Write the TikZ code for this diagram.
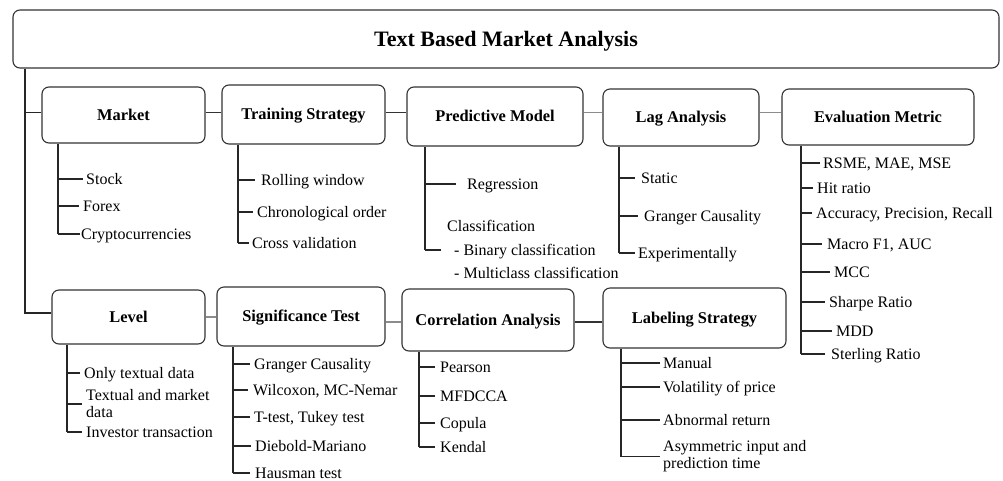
\documentclass[tikz,border=0pt]{standalone}
\usepackage{fontspec}
\setmainfont{Liberation Serif}
\begin{document}
\begin{tikzpicture}[x=1pt,y=-1pt,
  box/.style={draw=black!80, line width=1.1pt, rounded corners=7pt, inner sep=0pt,
              text height=10.9pt, text depth=0pt,
              font=\fontsize{16.4}{18}\selectfont\bfseries},
  item/.style={anchor=west, inner sep=0pt, text height=10.6pt, text depth=0pt,
               font=\fontsize{16}{17}\selectfont},
  item2/.style={anchor=west, inner sep=0pt, align=left,
                font=\fontsize{16}{17}\selectfont},
  tree/.style={draw=black!85, line width=1.1pt},
  link/.style={draw=black!80, line width=1.1pt},
  linkgray/.style={draw=black!45, line width=1.1pt}]
\useasboundingbox (0,0) rectangle (1003,480);

% ---- main heading ----
\node[box, minimum width=986pt, minimum height=58pt, text height=14.6pt,
      font=\fontsize{22}{26}\selectfont\bfseries]
  (title) at (506,39) {Text Based Market Analysis};

% ---- category boxes ----
\node[box, minimum width=163pt, minimum height=56pt] (market)     at (123.5,115)   {Market};
\node[box, minimum width=163pt, minimum height=59pt] (training)   at (303.5,114.5) {Training Strategy};
\node[box, minimum width=176pt, minimum height=59pt] (predictive) at (495,116.5)   {Predictive Model};
\node[box, minimum width=156pt, minimum height=57pt] (lag)        at (681,117.5)   {Lag Analysis};
\node[box, minimum width=192pt, minimum height=56pt] (eval)       at (878,117)     {Evaluation Metric};
\node[box, minimum width=153pt, minimum height=54pt] (level)      at (128.5,317)   {Level};
\node[box, minimum width=168pt, minimum height=59pt] (sig)        at (301,316.5)   {Significance Test};
\node[box, minimum width=172pt, minimum height=62pt] (corr)       at (488,320)     {Correlation Analysis};
\node[box, minimum width=183pt, minimum height=60pt] (label)      at (694.5,318)   {Labeling Strategy};

% ---- row guides and trunk positions ----
\coordinate (lt) at (25,0);
\coordinate (r1) at (0,112.5);
\coordinate (r2) at (0,313);
\coordinate (r3) at (0,317);
\coordinate (r4) at (0,322);

% ---- links between boxes ----
\draw[tree] (title.south -| lt) -- (lt |- r2) -- (level.west |- r2);
\draw[tree] (lt |- r1) -- (market.west |- r1);
\draw[link] (market.east |- r1) -- (training.west |- r1);
\draw[link] (training.east |- r1) -- (predictive.west |- r1);
\draw[linkgray] (predictive.east |- r1) -- (lag.west |- r1);
\draw[linkgray] (lag.east |- r1) -- (eval.west |- r1);
\draw[linkgray] (level.east |- r3) -- (sig.west |- r3);
\draw[linkgray] (sig.east |- r4) -- (corr.west |- r4);
\draw[link] (corr.east |- r4) -- (label.west |- r4);

% ---- Market ----
\coordinate (tA) at (58,0);
\node[item] (a1) at (86,179) {Stock};
\node[item] (a2) at (83,206) {Forex};
\node[item] (a3) at (81,234) {Cryptocurrencies};
\draw[tree] (market.south -| tA) -- (tA |- a3.west);
\foreach \n/\g in {a1/3,a2/4,a3/1} \draw[tree] (tA |- \n.west) -- ([xshift=-\g pt]\n.west);

% ---- Training Strategy ----
\coordinate (tB) at (238,0);
\node[item] (b1) at (261,180) {Rolling window};
\node[item] (b2) at (257,212) {Chronological order};
\node[item] (b3) at (252,243) {Cross validation};
\draw[tree] (training.south -| tB) -- (tB |- b3.west);
\foreach \n/\g in {b1/6,b2/4,b3/3} \draw[tree] (tB |- \n.west) -- ([xshift=-\g pt]\n.west);

% ---- Predictive Model ----
\coordinate (tC) at (425,0);
\node[item] (c1) at (467,184) {Regression};
\node[item] (c2) at (447,226) {Classification};
\node[item] (c3) at (454,250) {- Binary classification};
\node[item] (c4) at (454,273) {- Multiclass classification};
\draw[tree] (predictive.south -| tC) -- (tC |- c3.west);
\foreach \n/\g in {c1/11,c3/13} \draw[tree] (tC |- \n.west) -- ([xshift=-\g pt]\n.west);

% ---- Lag Analysis ----
\coordinate (tD) at (619,0);
\node[item] (d1) at (641,178) {Static};
\node[item] (d2) at (644,216) {Granger Causality};
\node[item] (d3) at (638,253) {Experimentally};
\draw[tree] (lag.south -| tD) -- (tD |- d3.west);
\foreach \n/\g in {d1/6,d2/6,d3/3} \draw[tree] (tD |- \n.west) -- ([xshift=-\g pt]\n.west);

% ---- Evaluation Metric ----
\coordinate (tE) at (801,0);
\node[item] (e1) at (823,163) {RSME, MAE, MSE};
\node[item] (e2) at (817,188) {Hit ratio};
\node[item] (e3) at (816,213) {Accuracy, Precision, Recall};
\node[item] (e4) at (827,244) {Macro F1, AUC};
\node[item] (e5) at (834,272) {MCC};
\node[item] (e6) at (829,302) {Sharpe Ratio};
\node[item] (e7) at (836,331) {MDD};
\node[item] (e8) at (831,354) {Sterling Ratio};
\draw[tree] (eval.south -| tE) -- (tE |- e8.west);
\foreach \n/\g in {e1/3,e2/4,e3/4,e4/5,e5/4,e6/4,e7/4,e8/6} \draw[tree] (tE |- \n.west) -- ([xshift=-\g pt]\n.west);

% ---- Level ----
\coordinate (tF) at (67,0);
\node[item]  (f1) at (84,373) {Only textual data};
\node[item2] (f2) at (86,404) {Textual and market\\data};
\node[item]  (f3) at (86,432) {Investor transaction};
\draw[tree] (level.south -| tF) -- (tF |- f3.west);
\foreach \n/\g in {f1/4,f2/4,f3/4} \draw[tree] (tF |- \n.west) -- ([xshift=-\g pt]\n.west);

% ---- Significance Test ----
\coordinate (tG) at (233,0);
\node[item] (g1) at (254,364) {Granger Causality};
\node[item] (g2) at (253,390) {Wilcoxon, MC-Nemar};
\node[item] (g3) at (254,417) {T-test, Tukey test};
\node[item] (g4) at (255,446) {Diebold-Mariano};
\node[item] (g5) at (255,473) {Hausman test};
\draw[tree] (sig.south -| tG) -- (tG |- g5.west);
\foreach \n/\g in {g1/4,g2/5,g3/4,g4/4,g5/5} \draw[tree] (tG |- \n.west) -- ([xshift=-\g pt]\n.west);

% ---- Correlation Analysis ----
\coordinate (tH) at (419,0);
\node[item] (h1) at (440,367) {Pearson};
\node[item] (h2) at (440,396) {MFDCCA};
\node[item] (h3) at (440,423) {Copula};
\node[item] (h4) at (440,447) {Kendal};
\draw[tree] (corr.south -| tH) -- (tH |- h4.west);
\foreach \n/\g in {h1/5,h2/5,h3/5,h4/5} \draw[tree] (tH |- \n.west) -- ([xshift=-\g pt]\n.west);

% ---- Labeling Strategy ----
\coordinate (tI) at (621,0);
\node[item]  (i1) at (663,363) {Manual};
\node[item]  (i2) at (663,387) {Volatility of price};
\node[item]  (i3) at (663,420) {Abnormal return};
\node[item2] (i4) at (663,456.5) {Asymmetric input and\\prediction time};
\draw[tree] (label.south -| tI) -- (tI |- i4.west);
\foreach \n/\g in {i1/3,i2/3,i3/3,i4/3} \draw[tree] (tI |- \n.west) -- ([xshift=-\g pt]\n.west);
\end{tikzpicture}
\end{document}
